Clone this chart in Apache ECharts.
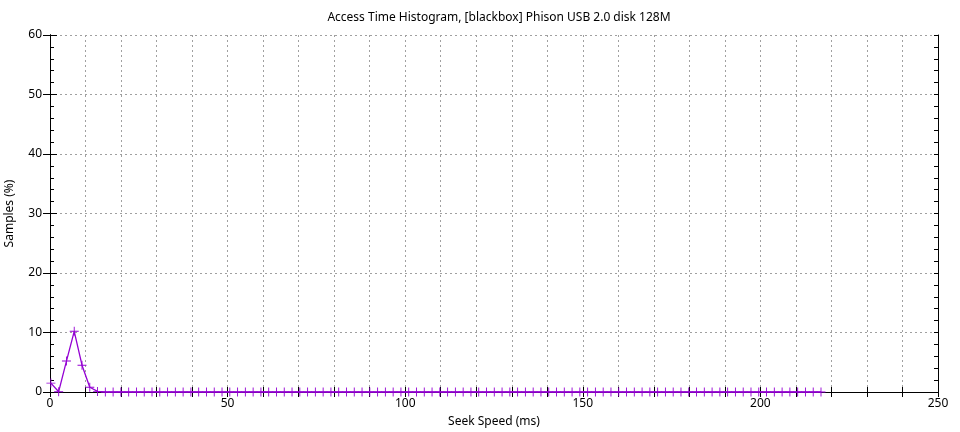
<!DOCTYPE html>
<html><head><meta charset="utf-8">
<script src="https://cdn.jsdelivr.net/npm/echarts@6/dist/echarts.min.js"></script>
<style>html,body{margin:0;padding:0;background:#fff}#c{width:960px;height:432px}</style>
</head><body><div id="c"></div>
<script>
const titleText = 'Access Time Histogram, [blackbox] Phison USB 2.0 disk 128M';
const xName = 'Seek Speed (ms)';
const yName = 'Samples (%)';
const seekMs = [0.25,2.44,4.63,6.82,9.01,11.2,13.39,15.58,17.77,19.96,22.15,24.34,26.53,28.72,30.91,33.1,35.29,37.48,39.67,41.86,44.05,46.24,48.43,50.62,52.81,55.0,57.19,59.38,61.57,63.76,65.95,68.14,70.33,72.52,74.71,76.9,79.09,81.28,83.47,85.66,87.85,90.04,92.23,94.42,96.61,98.8,100.99,103.18,105.37,107.56,109.75,111.94,114.13,116.32,118.51,120.7,122.89,125.08,127.27,129.46,131.65,133.84,136.03,138.22,140.41,142.6,144.79,146.98,149.17,151.36,153.55,155.74,157.93,160.12,162.31,164.5,166.69,168.88,171.07,173.26,175.45,177.64,179.83,182.02,184.21,186.4,188.59,190.78,192.97,195.16,197.35,199.54,201.73,203.92,206.11,208.3,210.49,212.68,214.87,217.06];
const samplesPct = [1.5,0.05,5.2,10.2,4.5,0.8,0.1,0,0,0,0,0,0,0,0,0,0,0,0,0,0,0,0,0,0,0,0,0,0,0,0,0,0,0,0,0,0,0,0,0,0,0,0,0,0,0,0,0,0,0,0,0,0,0,0,0,0,0,0,0,0,0,0,0,0,0,0,0,0,0,0,0,0,0,0,0,0,0,0,0,0,0,0,0,0,0,0,0,0,0,0,0,0,0,0,0,0,0,0,0];
const xTicks = [0,50,100,150,200,250];
const yTicks = [0,10,20,30,40,50,60];

const font = 'Noto Sans';
const chart = echarts.init(document.getElementById('c'), null, {renderer:'canvas'});
const splitLine = {show:true, lineStyle:{color:'#a0a0a0', type:[2,3], width:1}};
const axisLine = {show:true, lineStyle:{color:'#000', width:1}};
const tick = (len) => ({show:true, inside:true, length:len, lineStyle:{color:'#000', width:1}});
const baseX = {type:'value', min:0, max:250, interval:10, axisLine, splitLine:{show:false}, axisLabel:{show:false}, axisTick:tick(5)};
const baseY = {type:'value', min:0, max:60, axisLine, splitLine:{show:false}, axisLabel:{show:false}};
chart.setOption({
  animation:false,
  grid:{left:50, right:22, top:35, bottom:40, containLabel:false, outerBoundsMode:'none'},
  title:{text:titleText, left:494, top:7, textAlign:'center', textStyle:{fontFamily:font, fontSize:12, fontWeight:'normal', color:'#000'}},
  xAxis:[
    Object.assign({}, baseX, {position:'bottom', splitLine, name:xName, nameLocation:'middle', nameGap:24,
      nameTextStyle:{fontFamily:font, fontSize:12, color:'#000'},
      axisLabel:{show:true, color:'#000', fontFamily:font, fontSize:12, margin:6,
        formatter:v => xTicks.includes(v) ? String(v) : ''}}),
    Object.assign({}, baseX, {position:'top'})
  ],
  yAxis:[
    Object.assign({}, baseY, {position:'left', interval:10, splitLine, axisTick:tick(7), name:yName, nameLocation:'middle', nameGap:34,
      nameTextStyle:{fontFamily:font, fontSize:12, color:'#000'},
      axisLabel:{show:true, color:'#000', fontFamily:font, fontSize:12, margin:8,
        formatter:v => yTicks.includes(v) ? String(v) : ''}}),
    Object.assign({}, baseY, {position:'right', interval:10, axisTick:tick(7)}),
    Object.assign({}, baseY, {position:'left', interval:2, axisTick:tick(4)}),
    Object.assign({}, baseY, {position:'right', interval:2, axisTick:tick(4)})
  ],
  series:[{
    type:'line', xAxisIndex:0, yAxisIndex:0,
    data: seekMs.map((x,i)=>[x, samplesPct[i]]),
    lineStyle:{color:'#9400d3', width:1.3},
    itemStyle:{color:'#9400d3'},
    symbol:'path://M0,4.5h10v1h-10z M4.5,0h1v10h-1z', symbolSize:9,
    showSymbol:true, clip:false
  }]
});
</script></body></html>
